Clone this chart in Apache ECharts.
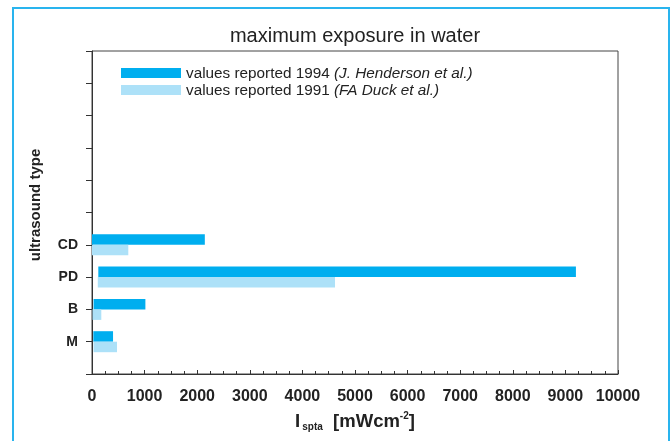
<!DOCTYPE html>
<html>
<head>
<meta charset="utf-8">
<script src="https://cdn.jsdelivr.net/npm/echarts@6/dist/echarts.min.js"></script>
<style>
html,body{margin:0;padding:0;background:#fff;}
#chart{width:671px;height:441px;}
</style>
</head>
<body>
<div id="chart"></div>
<script>
// ---- data ----
var categories = ['', 'M', 'B', 'PD', 'CD', '', '', '', '', '', ''];
var xTicks = [0, 1000, 2000, 3000, 4000, 5000, 6000, 7000, 8000, 9000, 10000];
var name1994 = 'values reported 1994 (J. Henderson et al.)';
var name1991 = 'values reported 1991 (FA Duck et al.)';
// bar ends (mW/cm2)
var values1994 = [null, 400, 1015, 9200, 2145, null, null, null, null, null, null];
var values1991 = [null, 475, 177, 4620, 690, null, null, null, null, null, null];
// bar start offsets as drawn in the figure
var start1994 = [null, 25, 30, 120, 0, null, null, null, null, null, null];
var start1991 = [null, 30, 10, 110, 0, null, null, null, null, null, null];

function lengths(ends, starts) {
  return ends.map(function (v, i) { return v == null ? null : v - (starts[i] || 0); });
}

var FONT = '"Liberation Sans", Arial, sans-serif';
var DARK = '#00aeef';
var LIGHT = '#ade1f8';

var chart = echarts.init(document.getElementById('chart'), null, {renderer: 'canvas'});
chart.setOption({
  animation: false,
  backgroundColor: '#fff',
  title: {
    text: 'maximum exposure in water',
    left: 350,
    top: 21,
    textAlign: 'center',
    textStyle: {fontFamily: FONT, fontSize: 20, fontWeight: 'normal', color: '#222'}
  },
  graphic: [{
    type: 'rect',
    shape: {x: 13, y: 8, width: 656, height: 460},
    style: {fill: 'none', stroke: '#29b4ee', lineWidth: 2},
    silent: true
  }],
  legend: {
    orient: 'vertical',
    left: 121,
    top: 65,
    padding: 0,
    itemGap: 1,
    itemWidth: 60,
    itemHeight: 10,
    icon: 'rect',
    data: [name1994, name1991],
    formatter: function (n) {
      var idx = n.indexOf(' (');
      return '{n|' + n.slice(0, idx) + ' }{i|' + n.slice(idx + 1) + '}';
    },
    textStyle: {
      fontFamily: FONT, fontSize: 15.3, color: '#222', lineHeight: 15,
      rich: {
        n: {fontFamily: FONT, fontSize: 15.3, color: '#222', lineHeight: 15, padding: [1, 0, 0, 0]},
        i: {fontFamily: FONT, fontSize: 15.3, color: '#222', fontStyle: 'italic', lineHeight: 15, padding: [1, 0, 0, 0]}
      }
    }
  },
  grid: {
    left: 92, right: 53, top: 51, bottom: 67,
    show: true, borderColor: '#444', borderWidth: 1, backgroundColor: 'transparent'
  },
  xAxis: {
    type: 'value',
    min: xTicks[0],
    max: xTicks[xTicks.length - 1],
    interval: xTicks[1] - xTicks[0],
    name: '{a|I}{s|spta}{a|  [mWcm}{p|-2}{a|]}',
    nameLocation: 'middle',
    nameGap: 37,
    nameTextStyle: {
      rich: {
        a: {fontFamily: FONT, fontSize: 18.5, fontWeight: 'bold', color: '#222', verticalAlign: 'bottom', lineHeight: 20},
        s: {fontFamily: FONT, fontSize: 10, fontWeight: 'bold', color: '#222', verticalAlign: 'bottom', lineHeight: 14, padding: [0, 0, -1, 2]},
        p: {fontFamily: FONT, fontSize: 10, fontWeight: 'bold', color: '#222', verticalAlign: 'top', lineHeight: 20}
      }
    },
    axisLine: {show: true, lineStyle: {color: '#333', width: 1}},
    axisTick: {show: true, inside: true, length: 4, lineStyle: {color: '#333'}},
    minorTick: {show: true, splitNumber: 4, length: 3, lineStyle: {color: '#333'}},
    splitLine: {show: false},
    axisLabel: {
      margin: 15,
      formatter: function (v) { return String(v); },
      fontFamily: FONT, fontSize: 16, fontWeight: 'bold', color: '#222'
    }
  },
  yAxis: {
    type: 'category',
    data: categories,
    boundaryGap: false,
    name: 'ultrasound type',
    nameLocation: 'middle',
    nameGap: 49,
    nameTextStyle: {fontFamily: FONT, fontSize: 15, fontWeight: 'bold', color: '#222', padding: [0, 0, 0, 15]},
    axisLine: {show: true, onZero: false, lineStyle: {color: '#333', width: 1}},
    axisTick: {show: true, inside: false, length: 6, interval: 0, lineStyle: {color: '#333'}},
    splitLine: {show: false},
    axisLabel: {
      interval: 0,
      margin: 14,
      fontFamily: FONT, fontSize: 14, fontWeight: 'bold', color: '#222'
    }
  },
  series: [
    {
      name: 'base1994', type: 'bar', stack: 'a', barWidth: 10.5, barGap: '0%',
      data: start1994, itemStyle: {color: 'rgba(0,0,0,0)'}, silent: true
    },
    {
      name: name1994, type: 'bar', stack: 'a', barWidth: 10.5, barGap: '0%',
      data: lengths(values1994, start1994), itemStyle: {color: DARK}
    },
    {
      name: 'base1991', type: 'bar', stack: 'b', barWidth: 10.5, barGap: '0%',
      data: start1991, itemStyle: {color: 'rgba(0,0,0,0)'}, silent: true
    },
    {
      name: name1991, type: 'bar', stack: 'b', barWidth: 10.5, barGap: '0%',
      data: lengths(values1991, start1991), itemStyle: {color: LIGHT}
    }
  ]
});
</script>
</body>
</html>
